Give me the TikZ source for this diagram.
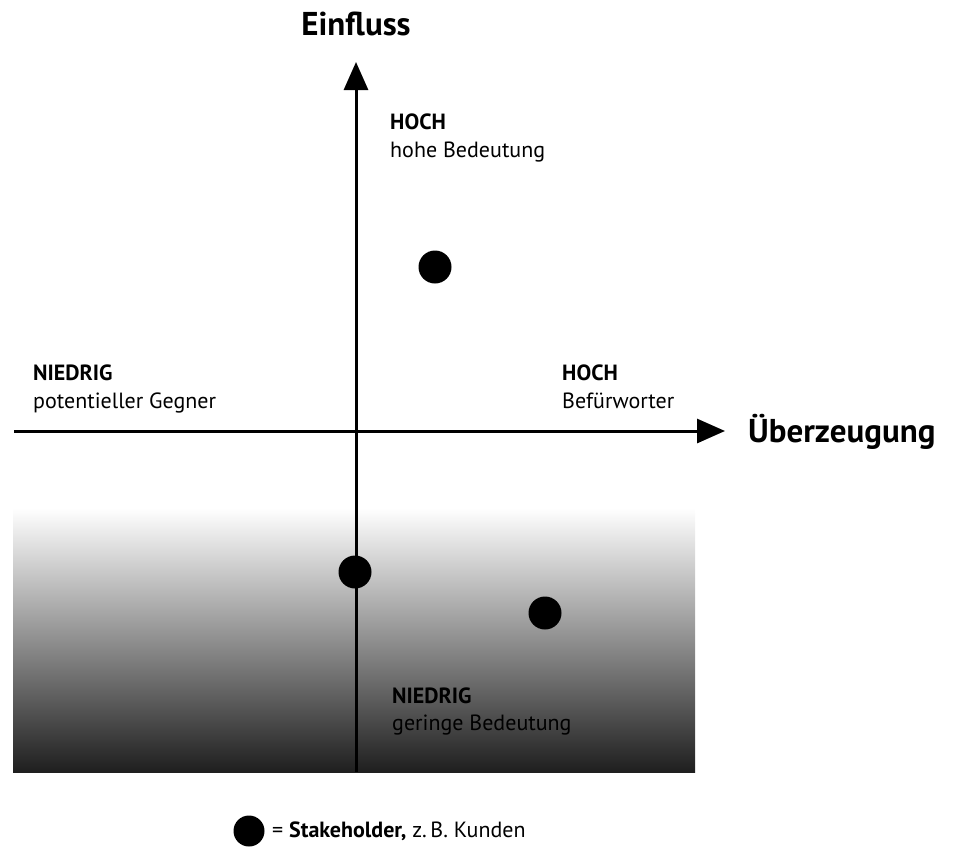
\documentclass[tikz,border=0pt]{standalone}
\usepackage{fontspec}
\setmainfont{PT Sans}
\usetikzlibrary{arrows.meta}
\begin{document}
\begin{tikzpicture}[x=1pt,y=-1pt,
  axis/.style={line width=3pt,-{Triangle[length=28pt,width=24pt]}},
  stake/.style={circle,fill=black,inner sep=0pt,minimum size=33pt},
  lab/.style={anchor=base west,inner sep=0pt,font=\fontsize{22}{26}\selectfont},
  head/.style={lab,font=\fontsize{22}{26}\selectfont\bfseries},
  title/.style={inner sep=0pt,font=\fontsize{33}{38}\selectfont\bfseries}]
\useasboundingbox (0,0) rectangle (958,846);

% low-influence band
\shade[top color=white,bottom color=black!88] (13,508) rectangle (695,772);

% axes
\coordinate (vbot) at (356,772);
\coordinate (vtop) at (356,62);
\coordinate (hleft) at (14,431);
\coordinate (hright) at (725,431);
\draw[axis] (vbot) -- (vtop);
\draw[axis] (hleft) -- (hright);

% axis titles
\node[title,anchor=base] (einfluss) at (356,35) {Einfluss};
\node[title,anchor=base west] (ueberz) at (748,442) {Überzeugung};

% quadrant labels
\node[head] (hochV) at (390,129) {HOCH};
\node[lab] (hoheB) at (390,157) {hohe Bedeutung};
\node[head] (niedrigH) at (33,380) {NIEDRIG};
\node[lab] (gegner) at (33,408) {potentieller Gegner};
\node[head] (hochH) at (562,380) {HOCH};
\node[lab] (befuer) at (562,408) {Befürworter};
\node[head] (niedrigV) at (392,703) {NIEDRIG};
\node[lab] (geringB) at (392,730) {geringe Bedeutung};

% stakeholders
\node[stake] (s1) at (435,267) {};
\node[stake] (s2) at (355,572) {};
\node[stake] (s3) at (545,613) {};

% legend
\node[stake,minimum size=31pt] (legdot) at (249,831) {};
\node[lab] (legtext) at (272,837) {= \textbf{Stakeholder,} z.\,B. Kunden};
\end{tikzpicture}
\end{document}
